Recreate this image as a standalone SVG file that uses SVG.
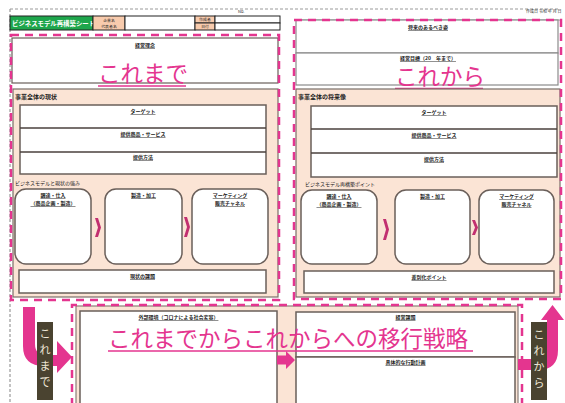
<svg xmlns="http://www.w3.org/2000/svg" width="565" height="403" viewBox="0 0 565 403">
<defs>
<style>
text{font-family:"Noto Sans CJK JP","Noto Sans",sans-serif;fill:#222}
.lbl{font-size:5px;text-anchor:middle;text-decoration:underline;font-weight:bold}
.sec{font-size:6px;font-weight:bold}
.sub{font-size:5px}
.big{font-size:22.5px;fill:#e4358f}
.vt{font-size:11px;fill:#efe8d8;text-anchor:middle}
.pd{fill:none;stroke:#e4358f;stroke-width:2.5;stroke-dasharray:8 6}
.gl{fill:none;stroke:#9a9a9a;stroke-width:1}
.peach{fill:#fbe4d5;stroke:#7a6e68;stroke-width:1.2}
.wb{fill:#fff;stroke:#6a5f5a;stroke-width:1.5}
.rb{fill:#fff;stroke:#6a5f5a;stroke-width:1.5}
.chev{fill:#c22f70}
.pk{fill:#e4358f}
.dark{fill:#4a4330}
.ul{stroke:#e4358f;stroke-width:1.5}
</style>
</defs>
<rect width="565" height="403" fill="#fff"/>
<g id="frame">
<path d="M10,9 H560 M10,9 V403" fill="none" stroke="#9a9a9a" stroke-width="1.2" stroke-dasharray="3 2"/>
<text x="238" y="13" style="font-size:4px">No.</text>
<text x="526" y="13" style="font-size:4px">作成日 令和 年 月 日</text>
</g>
<g id="header">
<rect x="10" y="16" width="83" height="14" fill="#1ea64c" stroke="#222" stroke-width="1"/>
<text x="12" y="25.5" style="font-size:6.4px;fill:#fff;font-weight:bold">ビジネスモデル再構築シート</text>
<rect x="93" y="16" width="32" height="14" fill="#f8cbad" stroke="#222" stroke-width="1"/>
<text x="109" y="21.8" style="font-size:3.9px;text-anchor:middle">企業名</text>
<text x="109" y="28" style="font-size:3.9px;text-anchor:middle">代表者名</text>
<rect x="125" y="16" width="70" height="14" fill="#fff" stroke="#222" stroke-width="1"/>
<rect x="195" y="16" width="20" height="7" fill="#f8cbad" stroke="#222" stroke-width="1"/>
<rect x="195" y="23" width="20" height="7" fill="#f8cbad" stroke="#222" stroke-width="1"/>
<text x="205" y="21.3" style="font-size:3.8px;text-anchor:middle">作成者</text>
<text x="205" y="28.3" style="font-size:3.8px;text-anchor:middle">日付</text>
<rect x="215" y="16" width="65" height="7" fill="#fff" stroke="#222" stroke-width="1"/>
<rect x="215" y="23" width="65" height="7" fill="#fff" stroke="#222" stroke-width="1"/>
</g>
<g id="left-section">
<rect x="12" y="38" width="266" height="45" fill="#fff" stroke="#6a5f5a" stroke-width="1.2"/>
<text x="145" y="47" class="lbl">経営理念</text>
<text x="98" y="82" class="big">これまで</text>
<line x1="98" y1="86" x2="186" y2="86" class="ul"/>
<rect x="13" y="89" width="265" height="208" class="peach"/>
<text x="15" y="99" class="sec">事業全体の現状</text>
<rect x="20" y="105" width="246" height="69" class="wb"/>
<line x1="20" y1="128" x2="266" y2="128" stroke="#4a403c" stroke-width="1.5"/>
<line x1="20" y1="152" x2="266" y2="152" stroke="#4a403c" stroke-width="1.5"/>
<text x="143" y="113" class="lbl">ターゲット</text>
<text x="143" y="136" class="lbl">提供商品・サービス</text>
<text x="143" y="159" class="lbl">提供方法</text>
<text x="15" y="185" class="sub">ビジネスモデルと現状の強み</text>
</g>
<g id="l-box1"><rect x="15" y="189" width="76" height="75" rx="11" class="rb"/>
<text x="53" y="197" class="lbl">調達・仕入</text><text x="53" y="205" class="lbl">（商品企画・製造）</text></g>
<g id="l-box2"><rect x="105" y="189" width="77" height="75" rx="11" class="rb"/>
<text x="143.5" y="197" class="lbl">製造・加工</text></g>
<g id="l-box3"><rect x="192" y="189" width="76" height="75" rx="11" class="rb"/>
<text x="230" y="197" class="lbl">マーケティング</text><text x="230" y="205" class="lbl">販売チャネル</text></g>
<g id="l-issue"><rect x="19" y="270" width="247" height="23" class="wb"/>
<text x="142.5" y="278" class="lbl">現状の課題</text></g>
<path d="M11,35 H279 V300 H11 Z" class="pd"/>
<g id="right-section">
<line x1="294" y1="20" x2="561" y2="20" class="gl"/>
<rect x="296" y="20" width="262" height="33" fill="#fff" stroke="#8a8a8a" stroke-width="1.2"/>
<rect x="296" y="53" width="262" height="32" fill="#fff" stroke="#8a8a8a" stroke-width="1.2"/>
<text x="428" y="29" class="lbl">将来のあるべき姿</text>
<text x="428" y="60" class="lbl">経営目標（20　年まで）</text>
<text x="395" y="85" class="big">これから</text>
<line x1="395" y1="88.5" x2="483" y2="88.5" class="ul"/>
<rect x="296" y="89" width="264" height="208" class="peach"/>
<text x="298" y="99" class="sec">事業全体の将来像</text>
<rect x="311" y="106" width="246" height="71" class="wb"/>
<line x1="311" y1="129" x2="557" y2="129" stroke="#4a403c" stroke-width="1.5"/>
<line x1="311" y1="153" x2="557" y2="153" stroke="#4a403c" stroke-width="1.5"/>
<text x="434" y="114" class="lbl">ターゲット</text>
<text x="434" y="137" class="lbl">提供商品・サービス</text>
<text x="434" y="161" class="lbl">提供方法</text>
<text x="305" y="186" class="sub">ビジネスモデル再構築ポイント</text>
</g>
<g id="r-box1"><rect x="301" y="190" width="76" height="74" rx="11" class="rb"/>
<text x="339" y="198" class="lbl">調達・仕入</text><text x="339" y="206" class="lbl">（商品企画・製造）</text></g>
<g id="r-box2"><rect x="395" y="190" width="75" height="74" rx="11" class="rb"/>
<text x="432.5" y="198" class="lbl">製造・加工</text></g>
<g id="r-box3"><rect x="479" y="190" width="75" height="74" rx="11" class="rb"/>
<text x="516.5" y="198" class="lbl">マーケティング</text><text x="516.5" y="206" class="lbl">販売チャネル</text></g>
<g id="r-diff"><rect x="304" y="271" width="250" height="22" class="wb"/>
<text x="429" y="279" class="lbl">差別化ポイント</text></g>
<path d="M294,20 H561 V299 H294 Z" class="pd"/>
<g id="bottom-section">
<rect x="76" y="306" width="442" height="100" fill="#fbe4d5" stroke="#8a7e78" stroke-width="1.2"/>
<rect x="80" y="311" width="197" height="95" class="wb"/>
<text x="178.5" y="319" class="lbl">外部環境（コロナによる社会変容）</text>
<rect x="296" y="312" width="219" height="45" class="wb"/>
<rect x="296" y="357" width="219" height="49" class="wb"/>
<text x="405.5" y="319" class="lbl">経営課題</text>
<text x="405.5" y="364" class="lbl">具体的な行動計画</text>
</g>
<path d="M72,406 V305 H522 V406" class="pd"/>
<g id="connectors">
<polygon class="chev" points="95,218 98,218 101,227.5 98,237 95,237 98,227.5"/>
<polygon class="chev" points="184,217 187,217 190,227 187,237 184,237 187,227"/>
<polygon class="chev" points="383,219 386,219 389,229.5 386,240 383,240 386,229.5"/>
<polygon class="chev" points="472,220 475,220 478,227.5 475,235 472,235 475,227.5"/>
<path class="pk" d="M23,307 H35 V344 Q35,355 46,355 H57 V341 L72,357 L57,373 V366 H44 Q23,366 23,346 Z"/>
<path class="pk" d="M277,355.5 H286 V351 L295,360 L286,369 V364.5 H277 Z"/>
<path class="pk" d="M518,359 H536 Q547,359 547,348 V320 H541 L552.5,305 L564,320 H558 V350 Q558,370 538,370 H518 Z"/>
</g>
<g id="label-korema">
<rect x="37" y="322" width="16" height="78" class="dark"/>
<text x="45" y="338" class="vt">こ</text><text x="45" y="354" class="vt">れ</text><text x="45" y="370" class="vt">ま</text><text x="45" y="386" class="vt">で</text>
</g>
<g id="label-korekara">
<rect x="531" y="322" width="16" height="78" class="dark"/>
<text x="539" y="339" class="vt">こ</text><text x="539" y="355" class="vt">れ</text><text x="539" y="371" class="vt">か</text><text x="539" y="387" class="vt">ら</text>
</g>
<g id="title">
<text x="108" y="347" class="big">これまでからこれからへの移行戦略</text>
<line x1="108" y1="351" x2="473" y2="351" class="ul"/>
</g>
</svg>
